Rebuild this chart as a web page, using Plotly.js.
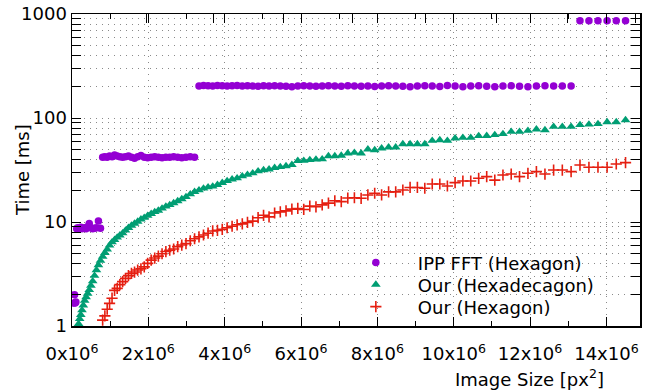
<!DOCTYPE html>
<html>
<head>
<meta charset="utf-8">
<script src="https://cdn.plot.ly/plotly-3.0.1.min.js"></script>
<style>
  html, body { margin: 0; padding: 0; background: #fff; }
  #chart { width: 654px; height: 392px; }
</style>
</head>
<body>
<div id="chart"></div>
<script>
// Image size in units of 10^6 px^2
const sizesM = [
  0.050, 0.066, 0.083, 0.102, 0.124, 0.147, 0.173, 0.201, 0.230, 0.262,
  0.296, 0.332, 0.370, 0.410, 0.452, 0.496, 0.542, 0.590, 0.640, 0.692,
  0.746, 0.803, 0.861, 0.922, 0.984, 1.049, 1.115, 1.184, 1.254, 1.327,
  1.402, 1.479, 1.558, 1.638, 1.721, 1.806, 1.893, 1.982, 2.074, 2.167,
  2.262, 2.359, 2.459, 2.560, 2.663, 2.769, 2.876, 2.986, 3.098, 3.211,
  3.327, 3.445, 3.565, 3.686, 3.810, 3.936, 4.064, 4.194, 4.326, 4.461,
  4.597, 4.735, 4.875, 5.018, 5.162, 5.308, 5.457, 5.607, 5.760, 5.915,
  6.071, 6.230, 6.391, 6.554, 6.718, 6.885, 7.054, 7.225, 7.398, 7.574,
  7.751, 7.930, 8.111, 8.294, 8.480, 8.667, 8.857, 9.048, 9.242, 9.437,
  9.635, 9.834, 10.036, 10.240, 10.446, 10.654, 10.864, 11.076, 11.290, 11.506,
  11.724, 11.944, 12.166, 12.390, 12.617, 12.845, 13.075, 13.308, 13.542, 13.779,
  14.018, 14.258, 14.501
];

// Time [ms]
const ippFFTHexagon = [
  1.66, 2.0, 1.66, 1.7,
  8.6, 8.8, 8.6, 8.7, 8.9, 8.6, 8.7, 8.8, 8.6, 9.0, 9.7, 8.8, 8.6, 8.7, 8.8, 10.2, 8.7,
  42, 42.5, 42, 43, 42.5, 44, 43, 42.5, 42, 42.5, 43, 42, 41, 42.5, 43.5, 42, 41.5, 42, 42.5, 42,
  41.5, 42, 42, 42.5, 42, 41.5, 42, 42.5, 42,
  203, 205, 204, 203, 205, 204, 203, 204, 205, 203,
  204, 203, 202, 204, 203, 204, 203, 202, 200, 203,
  204, 203, 202, 203, 204, 203, 202, 204, 203, 202,
  203, 201, 203, 204, 203, 202, 200, 203, 204, 203,
  201, 205, 203, 200, 203, 204, 202, 200, 203, 204,
  202, 200, 203, 204, 203, 203, 203,
  860, 860, 860, 860, 860, 860
];

const ourHexadecagon = [
  null, null, null, null, null, null,
  1.05, 1.17, 1.28, 1.42, 1.58, 1.75, 1.90, 2.05, 2.22, 2.45,
  2.7, 3.05, 3.45, 3.85, 4.25, 4.65, 5.05, 5.45, 5.95, 6.4,
  6.75, 7.1, 7.45, 7.8, 8.3, 8.8, 9.25, 9.65, 10.1, 10.6,
  11.0, 11.5, 12.0, 12.5, 12.9, 13.5, 14.1, 14.6, 15.2, 15.9,
  16.6, 17.4,
  18.5, 19.5, 20.2, 21.0, 21.6, 22.0, 22.8, 23.8, 24.8, 25.7,
  26.4, 27.6, 28.5, 29.5, 30.8, 31.6, 32.1, 33.2, 33.8, 34.5,
  35.5, 38.8, 38.9, 39.5, 40.0, 40.2, 43.1, 43.1, 43.5, 45.7,
  46.4, 45.8, 50.0, 49.2, 51.1, 52.2, 52.2, 56.2, 56.2, 56.2,
  56.2, 60.5, 61.4, 60.5, 63.8, 64.7, 64.7,
  67.2, 67.5, 68.7, 70.2, 73.8, 73.8, 75.5, 77.8, 76.6, 82.4,
  82.4, 82.4, 85.7, 86.8, 87.6, 91.5, 91.5, 95.6
];

const ourHexagon = [
  null, null, null, null, null, null, null, null, null, null,
  null, null, null, null, null, null, null, null, null, null, null,
  1.14, 1.25, 1.45, 1.65, 1.85, 2.2, 2.3, 2.5, 2.67, 2.87,
  3.05, 3.2, 3.3, 3.45, 3.55, 3.7, 4.0, 4.3, 4.5, 4.7,
  4.95, 5.2, 5.35, 5.5, 5.8, 6.0, 6.2, 6.6, 6.9, 7.2,
  7.5, 7.8, 8.2, 8.3, 8.5, 8.8, 9.1, 9.4, 9.6, 9.9,
  10.2, 11.0, 11.6, 11.2, 12.2, 12.5, 12.8, 13.3, 13.5, 13.2,
  14.2, 14.0, 14.6, 15.2, 16.0, 15.7, 17.0,
  17.1, 16.9, 18.2, 18.9, 18.2, 19.5, 19.5, 20.3, 21.5, 21.5,
  21.1, 23.2, 23.2, 22.2, 23.9, 24.8, 24.8,
  26.3, 27.3, 25.3, 28.3, 28.9, 27.3, 29.4, 30.5, 28.9, 31.6,
  31.6, 30.5, 35.3, 33.6, 33.6, 33.6, 36.1, 37.2
];

const seriesNames = ['IPP FFT (Hexagon)', 'Our (Hexadecagon)', 'Our (Hexagon)'];
const xTickVals = [0, 2, 4, 6, 8, 10, 12, 14];
const xTickText = ['0x10<sup>6</sup>', '2x10<sup>6</sup>', '4x10<sup>6</sup>', '6x10<sup>6</sup>',
                   '8x10<sup>6</sup>', '10x10<sup>6</sup>', '12x10<sup>6</sup>', '14x10<sup>6</sup>'];
const x2TickVals = [1.94, 3.70, 5.54, 7.35, 9.27, 11.13, 12.97, 14.75];
const yTickVals = [1, 10, 100, 1000];
const yTickText = ['1', '10', '100', '1000'];

const xRange = [0, 14.88];
const gridDash = '1px,5px';
const gridColor = '#8a8a8a';
const baseFont = { family: 'DejaVu Sans', size: 18, color: '#000' };

const traces = [
  {
    x: sizesM, y: ippFFTHexagon, name: seriesNames[0], type: 'scatter', mode: 'markers',
    legend: 'legend',
    marker: { symbol: 'circle', size: 7.5, color: '#9400d3' }
  },
  {
    x: sizesM, y: ourHexadecagon, name: seriesNames[1], type: 'scatter', mode: 'markers',
    legend: 'legend2',
    marker: { symbol: 'triangle-up', size: 8.5, color: '#009e73' }
  },
  {
    x: sizesM, y: ourHexagon, name: seriesNames[2], type: 'scatter', mode: 'markers',
    legend: 'legend3',
    marker: { symbol: 'cross-thin', size: 8, color: '#e51e10', line: { color: '#e51e10', width: 1.6 } }
  },
  {
    x: [xRange[0]], y: [null], xaxis: 'x2', yaxis: 'y', type: 'scatter', mode: 'markers',
    showlegend: false, hoverinfo: 'skip', marker: { opacity: 0 }
  }
];

function legendAt(yPaper) {
  return {
    x: 0.461, y: yPaper, xanchor: 'left', yanchor: 'top',
    bgcolor: 'rgba(0,0,0,0)', borderwidth: 0,
    itemwidth: 74, tracegroupgap: 0, font: baseFont
  };
}

const layout = {
  width: 654, height: 392,
  margin: { l: 72, r: 14, t: 14, b: 66, pad: 0 },
  paper_bgcolor: '#ffffff', plot_bgcolor: '#ffffff',
  font: baseFont,
  showlegend: true,
  legend: legendAt(0.2615),
  legend2: legendAt(0.1910),
  legend3: legendAt(0.1205),
  xaxis: {
    range: xRange, tickmode: 'array', tickvals: xTickVals, ticktext: xTickText,
    ticks: 'inside', ticklen: 9, tickwidth: 1, tickcolor: '#000', ticklabelstandoff: 11,
    showline: true, linewidth: 1.5, linecolor: '#000', mirror: 'allticks',
    showgrid: true, gridcolor: gridColor, griddash: gridDash, gridwidth: 1,
    zeroline: false,
    minor: { dtick: 1, ticks: 'inside', ticklen: 5, tickwidth: 1, tickcolor: '#000', showgrid: false },
    tickfont: baseFont
  },
  xaxis2: {
    overlaying: 'x', side: 'top', anchor: 'y', range: xRange,
    tickmode: 'array', tickvals: x2TickVals, ticks: 'inside', ticklen: 9, tickwidth: 1, tickcolor: '#000',
    showticklabels: false, showgrid: false, showline: false, zeroline: false
  },
  yaxis: {
    type: 'log', range: [0, 3], tickmode: 'array', tickvals: yTickVals, ticktext: yTickText,
    ticks: 'inside', ticklen: 9, tickwidth: 1, tickcolor: '#000',
    showline: true, linewidth: 1.5, linecolor: '#000', mirror: 'allticks',
    showgrid: true, gridcolor: gridColor, griddash: gridDash, gridwidth: 1,
    zeroline: false,
    minor: { dtick: 'D1', ticks: 'inside', ticklen: 5, tickwidth: 1, tickcolor: '#000',
             showgrid: true, gridcolor: gridColor, griddash: gridDash, gridwidth: 1 },
    tickfont: baseFont
  },
  annotations: [
    {
      text: 'Time [ms]', xref: 'paper', yref: 'paper', x: -0.088, y: 0.5,
      xanchor: 'center', yanchor: 'middle', textangle: -90, showarrow: false,
      font: baseFont
    },
    {
      text: 'Image Size [px<sup>2</sup>]', xref: 'paper', yref: 'paper', x: 0.806, y: -0.167,
      xanchor: 'center', yanchor: 'middle', showarrow: false,
      font: baseFont
    }
  ]
};

Plotly.newPlot('chart', traces, layout, { staticPlot: true, displayModeBar: false });
</script>
</body>
</html>
